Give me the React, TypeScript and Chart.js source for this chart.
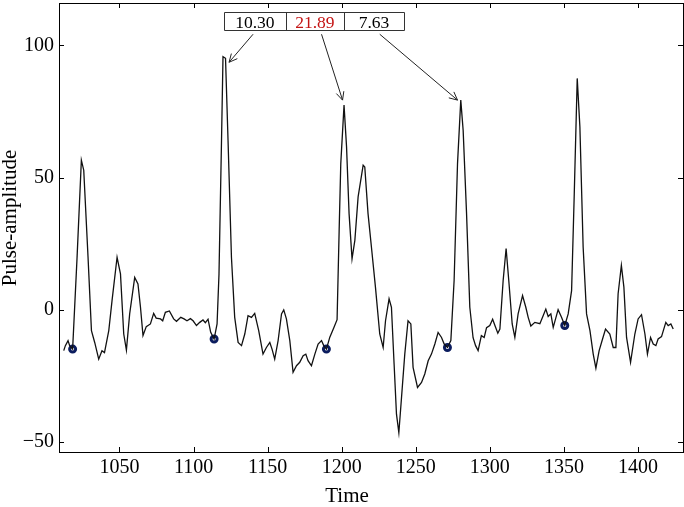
import React, { useEffect, useRef } from "react";
import { Chart, registerables } from "chart.js";

Chart.register(...registerables);

const time = [1012.4,1013.5,1015.3,1016.4,1018.4,1021.4,1024.3,1025.9,1028.8,1031.1,1033.3,1036.0,1038.2,1039.9,1042.8,1045.0,1048.4,1050.7,1052.9,1054.7,1056.9,1060.3,1062.5,1064.2,1065.9,1068.1,1070.9,1073.1,1074.8,1077.7,1079.2,1081.0,1083.7,1086.6,1088.5,1091.4,1093.6,1095.6,1097.9,1099.7,1102.0,1104.2,1106.4,1108.0,1109.8,1111.6,1113.9,1115.9,1117.2,1118.9,1119.9,1121.6,1123.3,1125.6,1127.8,1130.1,1132.4,1134.6,1136.8,1139.1,1141.3,1144.0,1146.9,1149.2,1151.5,1153.0,1154.8,1157.1,1159.4,1160.9,1162.7,1165.0,1167.2,1169.5,1171.7,1174.0,1175.8,1177.3,1179.6,1181.9,1184.1,1186.4,1187.9,1189.7,1192.0,1194.7,1196.9,1198.3,1199.4,1201.6,1203.3,1205.0,1207.0,1208.9,1211.1,1214.5,1215.6,1217.8,1220.1,1222.8,1225.7,1228.0,1229.6,1232.0,1233.6,1235.4,1237.0,1238.6,1240.4,1242.6,1244.8,1246.7,1248.2,1251.2,1253.9,1256.1,1258.4,1260.6,1262.9,1265.1,1267.4,1269.2,1271.4,1273.7,1275.9,1278.2,1280.4,1282.0,1284.3,1286.5,1288.7,1290.4,1292.1,1294.3,1296.2,1297.8,1300.0,1301.9,1303.7,1305.4,1306.8,1309.0,1311.0,1312.8,1315.1,1316.9,1319.1,1322.1,1324.3,1325.9,1327.7,1330.4,1333.8,1336.0,1337.8,1339.4,1341.2,1342.8,1346.1,1348.4,1350.6,1352.9,1355.2,1357.0,1359.0,1360.8,1363.0,1365.3,1367.6,1369.8,1371.6,1373.8,1376.1,1378.1,1381.0,1383.3,1385.1,1386.6,1388.8,1390.5,1392.3,1395.0,1397.9,1400.1,1402.4,1404.7,1406.4,1408.5,1410.3,1412.1,1413.6,1415.9,1418.8,1420.4,1422.2,1423.8];

const amplitude = [-15.4,-13.5,-11.6,-13.5,-14.8,19.9,56.6,52.8,19.9,-7.8,-12.3,-18.6,-15.4,-16.1,-7.8,3.5,19.9,13.6,-9.1,-15.2,-1.5,12.3,9.8,1.0,-9.7,-6.3,-5.3,-1.3,-3.1,-3.4,-4.1,-0.9,-0.4,-3.4,-4.3,-2.8,-3.4,-4.1,-3.3,-4.1,-5.9,-4.7,-3.8,-4.8,-3.5,-8.5,-11.0,-5.3,13.6,64.1,95.7,95.1,64.1,19.9,-2.8,-12.3,-13.5,-9.1,-2.2,-2.8,-1.3,-7.8,-16.7,-14.2,-12.3,-14.8,-18.6,-11.6,-1.5,0.0,-3.4,-11.6,-23.6,-21.1,-19.8,-17.3,-16.7,-19.2,-21.1,-16.7,-12.9,-11.6,-13.5,-14.8,-10.3,-6.7,-3.7,30.0,55.3,77.4,61.6,36.4,19.3,26.3,42.7,54.7,54.0,36.4,23.7,8.6,-9.1,-14.2,-4.1,4.2,1.0,-20.5,-39.4,-46.4,-33.1,-16.7,-4.1,-5.3,-21.7,-29.3,-27.4,-24.2,-19.2,-16.7,-12.9,-8.5,-10.4,-12.9,-14.2,-11.6,11.1,55.3,79.3,67.9,36.4,1.0,-10.5,-13.5,-15.4,-9.7,-10.4,-6.7,-5.9,-3.5,-6.3,-8.8,-7.2,11.1,23.2,11.1,-5.3,-10.4,-1.5,5.4,1.0,-2.8,-6.1,-4.7,-5.2,-2.2,0.3,-2.5,-1.5,-6.6,0.1,-2.8,-5.9,-1.5,7.3,43.9,87.5,69.2,23.7,-1.5,-7.8,-16.7,-22.0,-15.4,-11.0,-7.2,-9.1,-14.2,-14.2,6.1,16.8,8.6,-10.4,-19.8,-9.1,-3.4,-1.8,-9.1,-16.7,-10.4,-12.9,-13.5,-11.0,-10.1,-4.7,-5.9,-5.3,-7.2];

const markerTime = [1018.4, 1113.9, 1189.7, 1271.4, 1350.6];
const markerAmp = [-14.8, -11.0, -14.8, -14.2, -5.9];

const xTicks = [1050, 1100, 1150, 1200, 1250, 1300, 1350, 1400];
const yTicks = [-50, 0, 50, 100];

const boxLabels = ["10.30", "21.89", "7.63"];
const boxColors = ["#000000", "#c41414", "#000000"];
const boxEdges = [1120.6, 1162.3, 1201.6, 1242.1];
const boxTop = 112.5;
const boxBottom = 105.8;
const arrowStartX = [1140.2, 1186.4, 1225.7];
const arrowStartY = 104.2;
const arrowTipX = [1124.0, 1200.6, 1278.2];
const arrowTipY = [93.6, 79.3, 79.3];

const FONT = "'Liberation Serif', 'Times New Roman', serif";

const framePlugin = {
  id: "framePlugin",
  afterDraw(chart: any) {
    const { ctx, chartArea: a, scales } = chart;
    const xs = scales.x;
    const ys = scales.y;
    ctx.save();
    ctx.strokeStyle = "#000";
    ctx.lineWidth = 1;
    ctx.strokeRect(Math.round(a.left) + 0.5, Math.round(a.top) + 0.5, Math.round(a.right - a.left), Math.round(a.bottom - a.top));
    const tl = 5;
    ctx.beginPath();
    xTicks.forEach((v) => {
      const px = Math.round(xs.getPixelForValue(v)) + 0.5;
      ctx.moveTo(px, a.bottom);
      ctx.lineTo(px, a.bottom - tl);
      ctx.moveTo(px, a.top);
      ctx.lineTo(px, a.top + tl);
    });
    yTicks.forEach((v) => {
      const py = Math.round(ys.getPixelForValue(v)) + 0.5;
      ctx.moveTo(a.left, py);
      ctx.lineTo(a.left + tl, py);
      ctx.moveTo(a.right, py);
      ctx.lineTo(a.right - tl, py);
    });
    ctx.stroke();

    // tick labels
    ctx.fillStyle = "#000";
    ctx.font = `20px ${FONT}`;
    ctx.textAlign = "center";
    ctx.textBaseline = "middle";
    xTicks.forEach((v) => {
      ctx.fillText(String(v), xs.getPixelForValue(v), a.bottom + 16);
    });
    ctx.textAlign = "right";
    yTicks.forEach((v) => {
      ctx.fillText(String(v).replace("-", "\u2212"), a.left - 5, ys.getPixelForValue(v));
    });

    // axis titles
    ctx.font = `21px ${FONT}`;
    ctx.textAlign = "center";
    ctx.textBaseline = "middle";
    ctx.fillText("Time", 347, 496);
    ctx.save();
    ctx.translate(10, 218);
    ctx.rotate(-Math.PI / 2);
    ctx.fillText("Pulse-amplitude", 0, 0);
    ctx.restore();

    // annotation box
    const top = ys.getPixelForValue(boxTop);
    const bot = ys.getPixelForValue(boxBottom);
    const edges = boxEdges.map((v) => xs.getPixelForValue(v));
    ctx.fillStyle = "#fff";
    ctx.fillRect(edges[0], top, edges[edges.length - 1] - edges[0], bot - top);
    ctx.strokeStyle = "#333";
    ctx.lineWidth = 1;
    ctx.beginPath();
    ctx.rect(Math.round(edges[0]) + 0.5, Math.round(top) + 0.5, Math.round(edges[edges.length - 1] - edges[0]), Math.round(bot - top));
    for (let i = 1; i < edges.length - 1; i++) {
      ctx.moveTo(Math.round(edges[i]) + 0.5, top);
      ctx.lineTo(Math.round(edges[i]) + 0.5, bot);
    }
    ctx.stroke();
    ctx.font = `17.5px ${FONT}`;
    ctx.textAlign = "center";
    ctx.textBaseline = "alphabetic";
    boxLabels.forEach((t, i) => {
      ctx.fillStyle = boxColors[i];
      ctx.fillText(t, (edges[i] + edges[i + 1]) / 2, bot - 2);
    });

    // arrows
    ctx.strokeStyle = "#222";
    ctx.lineWidth = 1;
    arrowTipX.forEach((tx, i) => {
      const x0 = xs.getPixelForValue(arrowStartX[i]);
      const y0 = ys.getPixelForValue(arrowStartY);
      const x1 = xs.getPixelForValue(tx);
      const y1 = ys.getPixelForValue(arrowTipY[i]);
      const ang = Math.atan2(y1 - y0, x1 - x0);
      const hl = 9;
      const ha = 0.45;
      ctx.beginPath();
      ctx.moveTo(x0, y0);
      ctx.lineTo(x1, y1);
      ctx.moveTo(x1 - hl * Math.cos(ang - ha), y1 - hl * Math.sin(ang - ha));
      ctx.lineTo(x1, y1);
      ctx.lineTo(x1 - hl * Math.cos(ang + ha), y1 - hl * Math.sin(ang + ha));
      ctx.stroke();
    });
    ctx.restore();
  },
};

export default function App() {
  const ref = useRef<HTMLCanvasElement>(null);
  useEffect(() => {
    if (!ref.current) return;
    const chart = new Chart(ref.current, {
      type: "line",
      data: {
        datasets: [
          {
            data: time.map((t, i) => ({ x: t, y: amplitude[i] })),
            borderColor: "#111",
            borderWidth: 1.3,
            pointRadius: 0,
            tension: 0,
            fill: false,
          },
          {
            data: markerTime.map((t, i) => ({ x: t, y: markerAmp[i] })),
            showLine: false,
            pointRadius: 3,
            pointBorderWidth: 3,
            pointBorderColor: "#0b1c5e",
            pointBackgroundColor: "#ffffff",
          },
        ],
      },
      options: {
        responsive: false,
        animation: false,
        events: [],
        layout: { autoPadding: false, padding: { left: 0, top: 3, right: 1, bottom: 0 } },
        plugins: { legend: { display: false }, tooltip: { enabled: false } },
        scales: {
          x: {
            type: "linear",
            min: 1009.2,
            max: 1430.4,
            grid: { display: false, drawTicks: false },
            border: { display: false },
            ticks: { display: false },
            afterBuildTicks: (s: any) => {
              s.ticks = xTicks.map((v) => ({ value: v }));
            },
            afterFit: (s: any) => {
              s.height = 55;
            },
          },
          y: {
            type: "linear",
            min: -53.7,
            max: 116,
            grid: { display: false, drawTicks: false },
            border: { display: false },
            ticks: { display: false },
            afterBuildTicks: (s: any) => {
              s.ticks = yTicks.map((v) => ({ value: v }));
            },
            afterFit: (s: any) => {
              s.width = 59;
            },
          },
        },
      },
      plugins: [framePlugin],
    });
    return () => chart.destroy();
  }, []);
  return (
    <canvas
      ref={ref}
      width={684}
      height={507}
      style={{ position: "fixed", left: 0, top: 0, width: 684, height: 507, display: "block", background: "#fff" }}
    />
  );
}
